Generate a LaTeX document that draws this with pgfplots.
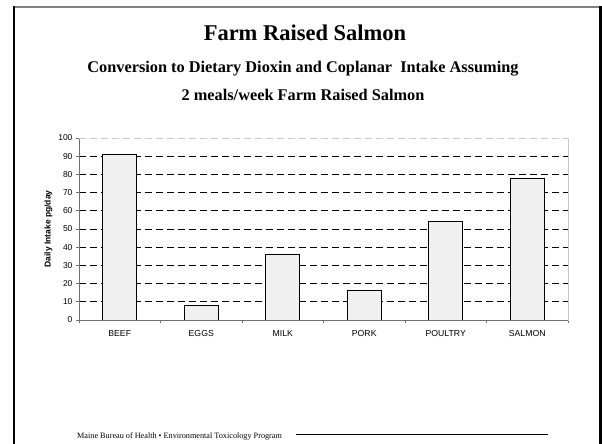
\documentclass[border=0pt]{standalone}
\usepackage{fontspec}
\setmainfont{Liberation Serif}
\newfontfamily\arial{Liberation Sans}
\usepackage{pgfplots}
\pgfplotsset{compat=1.18}
\definecolor{barfill}{HTML}{F0F0F0}
\definecolor{plotedge}{HTML}{C8C8C8}
\definecolor{axisgray}{HTML}{707070}
\begin{document}
\begin{tikzpicture}[x=1pt,y=1pt]
\useasboundingbox (0,0) rectangle (602,444);
% slide frame
\draw[color=gray, line width=1.6pt] (13.8,437) -- (600.5,437);
\draw[black, line width=2.4pt] (13.8,-5) -- (13.8,437.8);
\draw[black, line width=2.4pt] (600.5,-5) -- (600.5,437.8);
% titles
\node[font=\bfseries\fontsize{22.5}{26}\selectfont] at (305,411) {Farm Raised Salmon};
\node[font=\bfseries\fontsize{16.3}{19}\selectfont] at (303,375) {Conversion to Dietary Dioxin and Coplanar\ \ Intake Assuming};
\node[font=\bfseries\fontsize{16.3}{19}\selectfont] at (303,349) {2 meals/week Farm Raised Salmon};
% footer
\node[anchor=west, font=\fontsize{8.2}{10}\selectfont, inner sep=0pt] at (77,8) {Maine Bureau of Health • Environmental Toxicology Program};
\draw[black, line width=1.1pt] (296,9.5) -- (548,9.5);
\begin{axis}[
  at={(79pt,124pt)}, anchor=south west,
  scale only axis, width=489pt, height=182pt,
  xmin=-0.5, xmax=5.5, ymin=0, ymax=100,
  ytick={0,10,...,90},
  extra y ticks={100},
  extra y tick style={grid=none},
  xtick={-0.5,0.5,...,5.5},
  xticklabels={},
  extra x ticks={0,1,2,3,4,5},
  extra x tick labels={BEEF,EGGS,MILK,PORK,POULTRY,SALMON},
  extra x tick style={major tick length=0pt, xticklabel style={yshift=-6.5pt, font=\arial\fontsize{8.7}{10}\selectfont}},
  xtick pos=bottom, ytick pos=left,
  tick align=outside, major tick length=3pt,
  tick style={axisgray, line width=0.6pt},
  axis line style={plotedge, line width=0.6pt},
  ymajorgrids,
  major grid style={black, line width=0.7pt, dash pattern=on 7pt off 4pt},
  ticklabel style={font=\arial\fontsize{8.5}{10}\selectfont},
  /pgf/number format/assume math mode=true,
  ylabel={\arial\bfseries\fontsize{8.5}{10}\selectfont Daily Intake pg/day},
  ylabel style={yshift=-4pt},
  ybar, bar width=34pt,
  clip=false,
]
\addplot[draw=black, fill=barfill, line width=0.8pt] coordinates {(0,91) (1,8) (2,36) (3,16) (4,54) (5,78)};
\draw[axisgray, line width=0.8pt] (rel axis cs:0,1) -- (rel axis cs:0,0) -- (rel axis cs:1,0);
\draw[white, line width=0.8pt] (rel axis cs:0,1) -- (rel axis cs:1,1);
\draw[plotedge, line width=0.8pt, dash pattern=on 7pt off 4pt] (rel axis cs:0,1) -- (rel axis cs:1,1);
\end{axis}
\end{tikzpicture}
\end{document}
